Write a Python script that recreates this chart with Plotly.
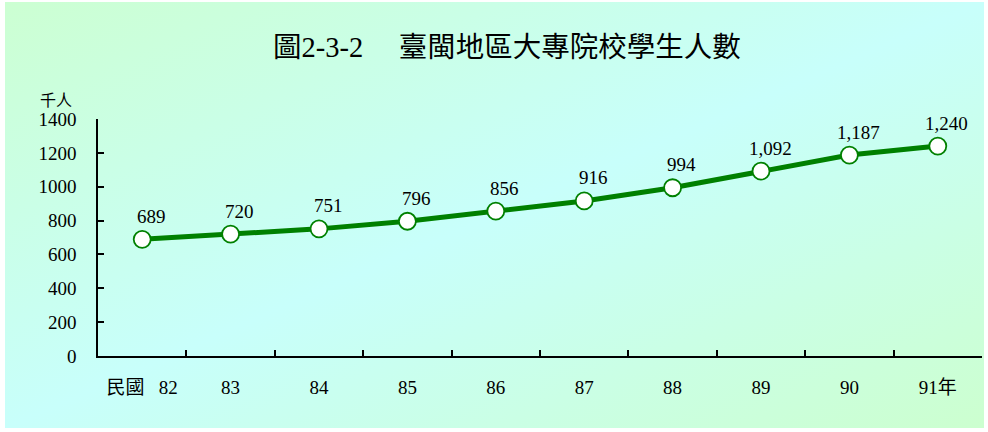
import base64
import plotly.graph_objects as go

# ---- data ----
years = ["82", "83", "84", "85", "86", "87", "88", "89", "90", "91"]
tick_labels = ["民國\u00a0\u00a0\u00a082", "83", "84", "85", "86", "87", "88", "89", "90", "91年"]
students = [689, 720, 751, 796, 856, 916, 994, 1092, 1187, 1240]
y_ticks = [0, 200, 400, 600, 800, 1000, 1200, 1400]

title_text = "圖2-3-2\u3000\u00a0臺閩地區大專院校學生人數"
unit_text = "千人"

W, H = 988, 432
ML, MR, MT, MB = 98, 6, 119, 76
PW, PH = W - ML - MR, H - MT - MB

SERIF = "Liberation Serif, Times New Roman, Noto Sans CJK TC, serif"
CJK = "Noto Sans CJK TC, Noto Sans CJK SC, sans-serif"

# gradient background (green corners, cyan centre) as svg image
svg = (
    '<svg xmlns="http://www.w3.org/2000/svg" width="980" height="426" viewBox="0 0 980 426" preserveAspectRatio="none">'
    '<defs><linearGradient id="g" x1="0" y1="0" x2="1" y2="1">'
    '<stop offset="0" stop-color="#ccffd2"/>'
    '<stop offset="0.5" stop-color="#c8fffb"/>'
    '<stop offset="1" stop-color="#ccffcf"/>'
    '</linearGradient></defs>'
    '<rect width="980" height="426" fill="url(#g)"/></svg>'
)
src = "data:image/svg+xml;base64," + base64.b64encode(svg.encode()).decode()

fig = go.Figure()
fig.add_trace(go.Scatter(
    x=years, y=students, mode="lines+markers",
    line=dict(color="#008000", width=5),
    marker=dict(size=17, color="white", line=dict(color="#008000", width=1.8)),
    hoverinfo="skip", showlegend=False,
))

for i, v in enumerate(students):
    fig.add_annotation(x=i, y=v, text=f"{v:,}", showarrow=False,
                       xshift=9, yshift=23,
                       font=dict(family=SERIF, size=19, color="black"))

# unit label
fig.add_annotation(xref="paper", yref="paper",
                   x=(56 - ML) / PW, y=(H - MB - 99) / PH,
                   text=unit_text, showarrow=False,
                   xanchor="center", yanchor="middle",
                   font=dict(family=CJK, size=16, color="black"))

fig.add_layout_image(dict(
    source=src, xref="paper", yref="paper",
    x=(5 - ML) / PW, y=(H - MB - 2) / PH,
    sizex=(984 - 5) / PW, sizey=(428 - 2) / PH,
    sizing="stretch", xanchor="left", yanchor="top", layer="below",
))

fig.update_layout(
    width=W, height=H,
    margin=dict(l=ML, r=MR, t=MT, b=MB),
    paper_bgcolor="white", plot_bgcolor="rgba(0,0,0,0)",
    title=dict(text=title_text, x=273 / W, xanchor="left",
               y=1 - 47 / H, yanchor="middle", yref="container",
               font=dict(family=SERIF, size=28.5, color="black")),
    xaxis=dict(type="category", range=[-0.5, 9.5],
               tickmode="array", tickvals=years, ticktext=tick_labels,
               tickson="boundaries", ticks="inside", ticklen=6,
               tickcolor="black", tickwidth=1.5,
               showline=True, linecolor="black", linewidth=1.5,
               showgrid=False, zeroline=False, ticklabelstandoff=13,
               tickfont=dict(family=SERIF, size=19, color="black")),
    yaxis=dict(range=[0, 1400], tickmode="array", tickvals=y_ticks,
               ticks="inside", ticklen=6, tickcolor="black", tickwidth=1.5,
               showline=True, linecolor="black", linewidth=1.5,
               showgrid=False, zeroline=False, ticklabelstandoff=16,
               tickfont=dict(family=SERIF, size=19, color="black")),
)

fig.write_html("out.html", config={"displayModeBar": False},
               post_script="document.body.style.margin='0';document.body.style.padding='0';")
